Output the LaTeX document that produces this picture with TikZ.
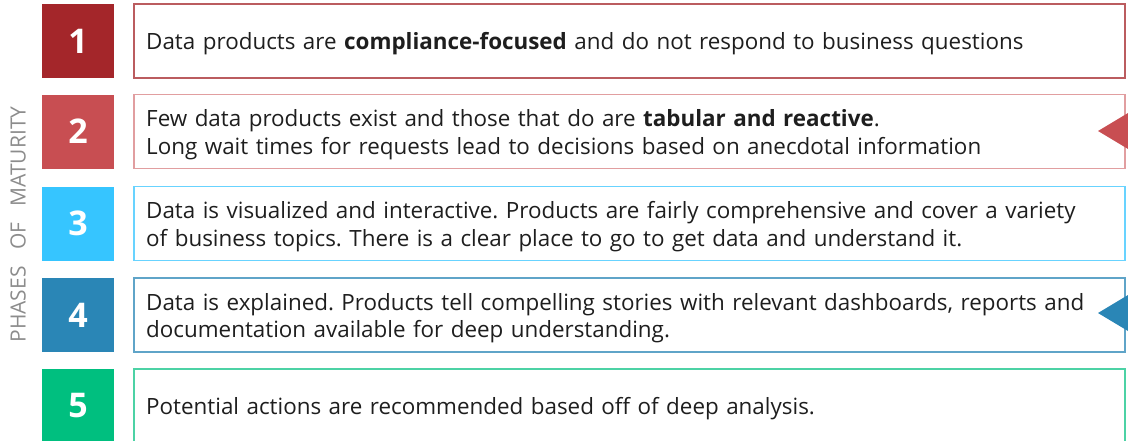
\documentclass[tikz,border=0pt]{standalone}
\usepackage{fontspec}
\setmainfont{Open Sans}
\usetikzlibrary{positioning,calc}
\definecolor{cA}{HTML}{A4262A}
\definecolor{cB}{HTML}{C84E52}
\definecolor{cC}{HTML}{36C5FF}
\definecolor{cD}{HTML}{2A86B6}
\definecolor{cE}{HTML}{00BF7F}
\definecolor{txt}{HTML}{1E1E1E}
\definecolor{lbl}{HTML}{8C8C8C}
\tikzset{
  numbox/.style={fill=#1, minimum width=72pt, minimum height=74pt, inner sep=0pt,
    text=white, font=\fontsize{34}{34}\selectfont\bfseries},
  framebox/.style={draw=#1, line width=1.6pt, minimum width=991pt, minimum height=74pt,
    inner sep=0pt, anchor=west},
  desctext/.style={text width=965pt, inner xsep=13pt, inner ysep=0pt, align=left, anchor=west,
    text=txt, font=\fontsize{22.4}{27.5}\selectfont},
  marker/.style={fill=#1, draw=none},
}
\begin{document}
\frenchspacing
\begin{tikzpicture}[x=1pt,y=-1pt]
\useasboundingbox (0,0) rectangle (1128,440);
\clip (0,0) rectangle (1128,440);
\node[numbox=cA] (n1) at (78,41) {1};
\node[numbox=cB] (n2) at (78,131.5) {2};
\node[numbox=cC] (n3) at (78,223.5) {3};
\node[numbox=cD] (n4) at (78,315) {4};
\node[numbox=cE] (n5) at (78,406) {5};
\node[framebox=cA!75] (b1) at (133,41) {};
\node[framebox=cB!55] (b2) at (133,131.5) {};
\node[framebox=cC!75] (b3) at (133,223.5) {};
\node[framebox=cD!75] (b4) at (133,315) {};
\node[framebox=cE!70] (b5) at (133,406) {};
\node[desctext] (d1) at ($(b1.west)+(0,3)$) {Data products are \textbf{compliance-focused} and do not respond to business questions};
\node[desctext] (d2) at ($(b2.west)+(0,3)$) {Few data products exist and those that do are \textbf{tabular and reactive}.\\Long wait times for requests lead to decisions based on anecdotal information};
\node[desctext] (d3) at ($(b3.west)+(0,3)$) {Data is visualized and interactive. Products are fairly comprehensive and cover a variety\\of business topics. There is a clear place to go to get data and understand it.};
\node[desctext] (d4) at ($(b4.west)+(0,3)$) {Data is explained. Products tell compelling stories with relevant dashboards, reports and\\documentation available for deep understanding.};
\node[desctext] (d5) at ($(b5.west)+(0,3)$) {Potential actions are recommended based off of deep analysis.};
\coordinate (t2) at (1098,131);
\coordinate (t4) at (1098,313);
\fill[marker=cB] (t2) -- ++(36,-21.6) -- ++(0,43.2) -- cycle;
\fill[marker=cD] (t4) -- ++(36,-21.6) -- ++(0,43.2) -- cycle;
\node[rotate=90, text=lbl, font=\fontsize{21}{21}\selectfont] (ph) at (18,224.5) {PHASES\ \ \ OF\ \ \ MATURITY};
\end{tikzpicture}
\end{document}
